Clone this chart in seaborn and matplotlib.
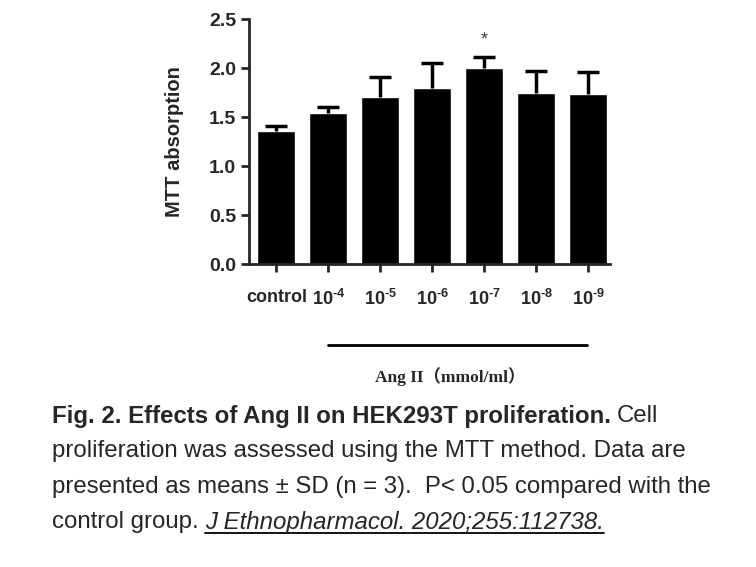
import numpy as np
import pandas as pd
import matplotlib
matplotlib.use('Agg')
import matplotlib.pyplot as plt
import seaborn as sns
from matplotlib.lines import Line2D

# data
groups = ['control', '10^{\\text{-}4}', '10^{\\text{-}5}', '10^{\\text{-}6}',
          '10^{\\text{-}7}', '10^{\\text{-}8}', '10^{\\text{-}9}']
mtt_mean = [1.36, 1.545, 1.71, 1.80, 2.005, 1.745, 1.735]
mtt_sd = [0.05, 0.06, 0.20, 0.255, 0.115, 0.225, 0.225]
star_group = 4
star_y = 2.29

sns.set_style('ticks')
plt.rcParams['font.family'] = ['Liberation Sans', 'DejaVu Sans']
plt.rcParams['mathtext.fontset'] = 'custom'
plt.rcParams['mathtext.rm'] = 'Liberation Sans:bold'
plt.rcParams['mathtext.bf'] = 'Liberation Sans:bold'

df = pd.DataFrame({'group': groups, 'mtt': mtt_mean})

fig = plt.figure(figsize=(7.56, 5.67), dpi=100)
ax = fig.add_axes([0.329, 0.534, 0.478, 0.432])
sns.barplot(data=df, x='group', y='mtt', color='black', width=0.73,
            saturation=1, ax=ax)
# upper-only SD bars
eb = ax.errorbar(range(len(groups)), mtt_mean, yerr=[np.zeros(len(groups)), mtt_sd],
                 fmt='none', ecolor='black', elinewidth=2.5, capsize=8, capthick=2.5)
eb[1][0].set_visible(False)
ax.text(star_group, star_y, '*', ha='center', va='center', fontsize=13, color='#444444')

ax.set_ylim(0, 2.5)
ax.set_xlim(-0.53, 6.42)
ax.set_yticks([0.0, 0.5, 1.0, 1.5, 2.0, 2.5])
ax.set_yticklabels(['0.0', '0.5', '1.0', '1.5', '2.0', '2.5'], fontweight='bold', fontsize=14)
ax.set_xticks(range(len(groups)))
ax.set_xticklabels(['control'] + ['$' + g + '$' for g in groups[1:]],
                   fontweight='bold', fontsize=13)
ax.tick_params(axis='x', pad=12)
ax.set_xlabel('')
ax.set_ylabel('MTT absorption', fontweight='bold', fontsize=14.5, labelpad=18)
sns.despine(ax=ax)
for s in ['left', 'bottom']:
    ax.spines[s].set_linewidth(2)
ax.tick_params(width=2, length=6, direction='out')
ax.tick_params(axis='y', pad=3)

# bracket line and unit label
fig.add_artist(Line2D([328 / 756, 587 / 756], [1 - 345 / 567, 1 - 345 / 567],
                      color='black', lw=2))
fig.text(450 / 756, 1 - 377 / 567, 'Ang II（mmol/ml）', ha='center', va='center',
         fontsize=12.5, fontweight='bold', family=['Liberation Serif', 'Noto Sans CJK SC'])

# caption
fs = 17.3
x0 = 52 / 756
ys = [416, 451, 487, 522]
t1 = fig.text(x0, 1 - ys[0] / 567, 'Fig. 2. Effects of Ang II on HEK293T proliferation.',
              fontsize=fs, fontweight='bold', va='center')
fig.canvas.draw()
r = fig.canvas.get_renderer()
bb = t1.get_window_extent(r)
fig.text(bb.x1 / 756 + 0.008, 1 - ys[0] / 567, 'Cell', fontsize=fs, va='center')
fig.text(x0, 1 - ys[1] / 567, 'proliferation was assessed using the MTT method. Data are',
         fontsize=fs, va='center')
fig.text(x0, 1 - ys[2] / 567, 'presented as means ± SD (n = 3).  P< 0.05 compared with the',
         fontsize=fs, va='center')
t4 = fig.text(x0, 1 - ys[3] / 567, 'control group. ', fontsize=fs, va='center')
fig.canvas.draw()
bb4 = t4.get_window_extent(r)
t5 = fig.text(bb4.x1 / 756, 1 - ys[3] / 567, 'J Ethnopharmacol. 2020;255:112738.',
              fontsize=fs, va='center', style='italic')
fig.canvas.draw()
bb5 = t5.get_window_extent(r)
uy = (bb5.y0 + 1) / 567
fig.add_artist(Line2D([bb5.x0 / 756, bb5.x1 / 756], [uy, uy], color='black', lw=1.3))

fig.savefig('out.png', dpi=100)
